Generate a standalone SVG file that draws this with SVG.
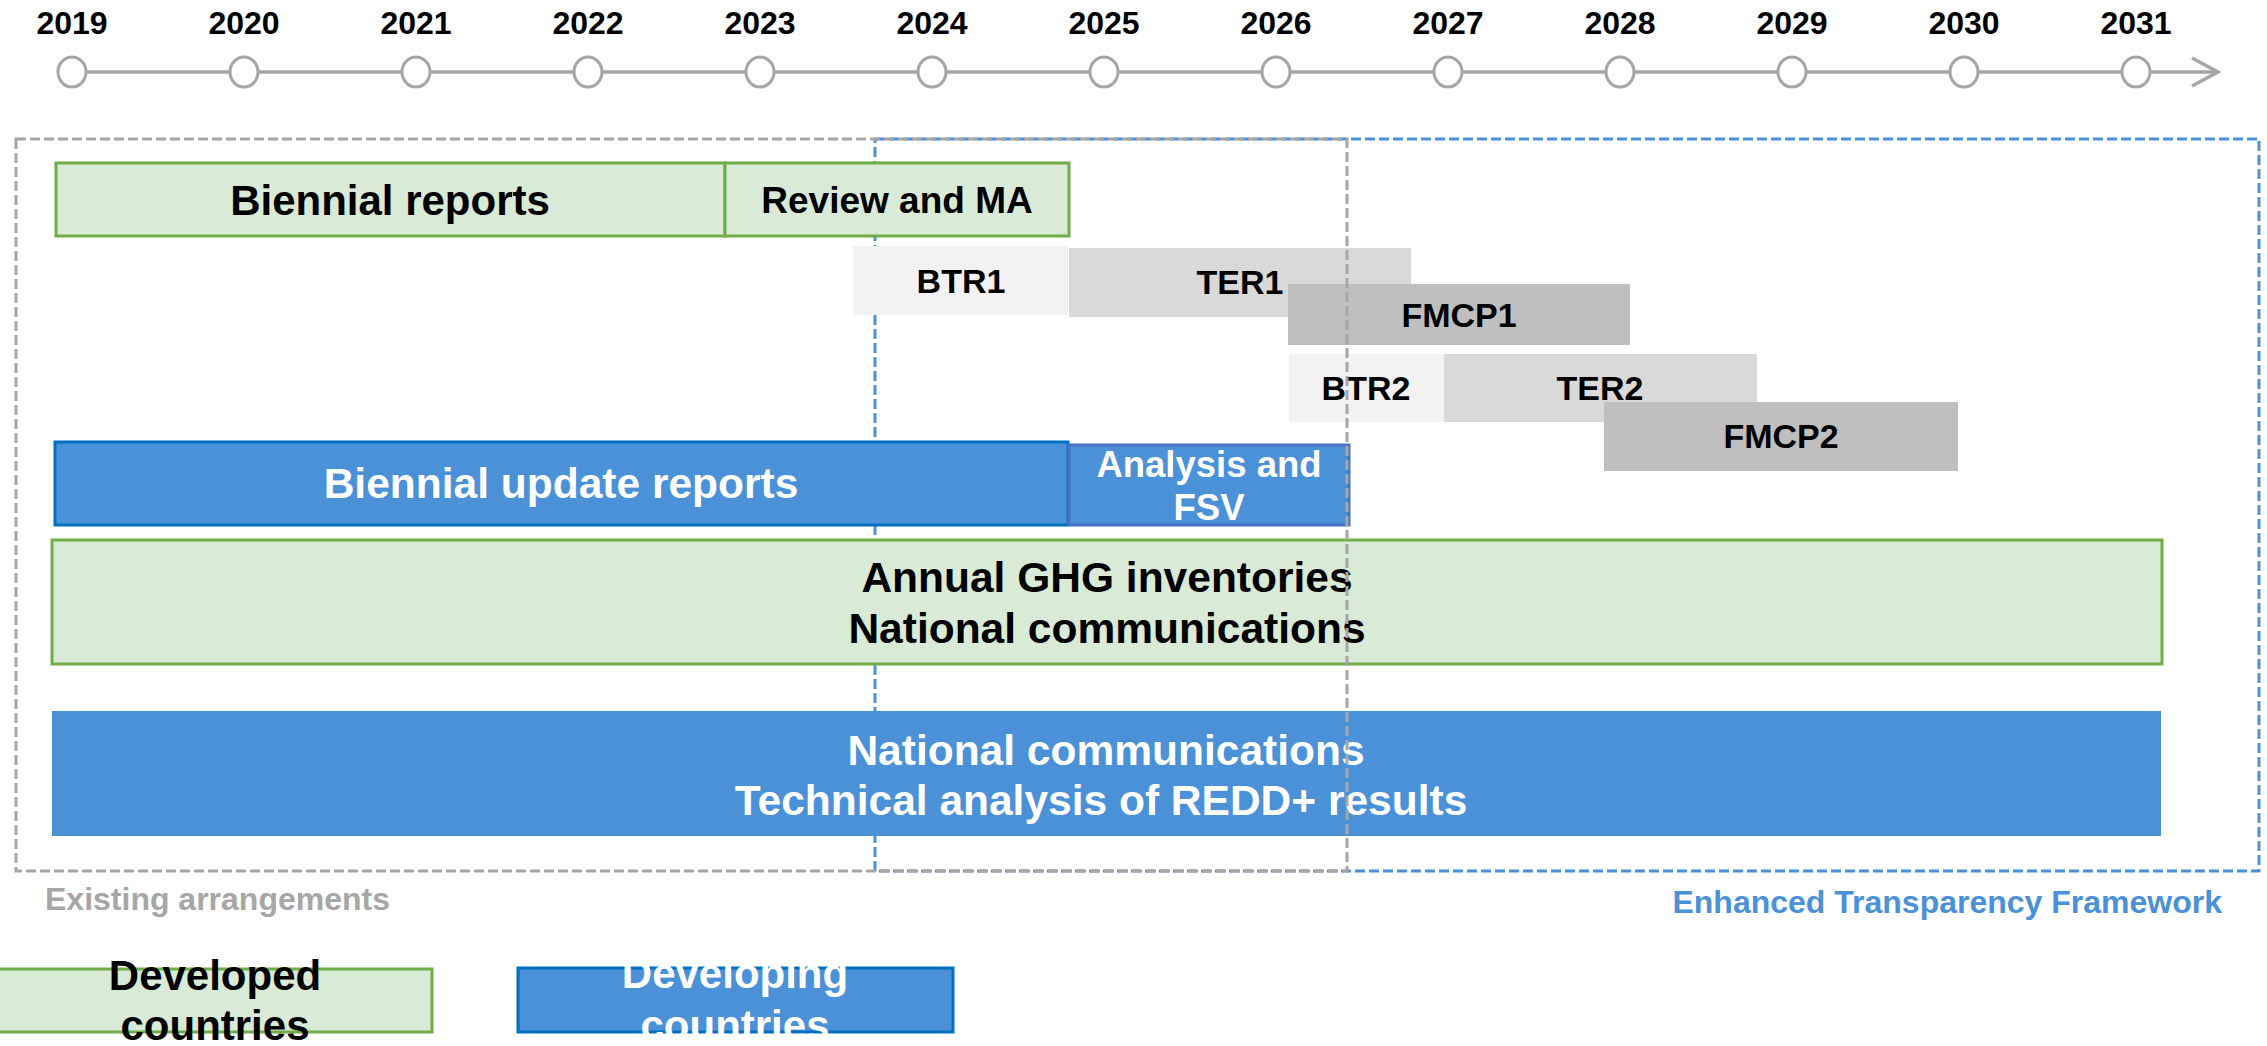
<svg xmlns="http://www.w3.org/2000/svg" width="2267" height="1046" viewBox="0 0 2267 1046">
<style>
text{font-family:"Liberation Sans",Arial,sans-serif;font-weight:bold;text-anchor:middle}
.yr{font-size:32px;fill:#000}
.dk{fill:#000}
.wt{fill:#fff}
.green{fill:#D9EAD7;stroke:#70AD47;stroke-width:3}
.blue{fill:#4A91D8;stroke:#0070C0;stroke-width:3}
.gr1{fill:#F2F2F2}
.gr2{fill:#D9D9D9}
.gr3{fill:#BFBFBF}
.tick{fill:#fff;stroke:#A6A6A6;stroke-width:3}
</style>
<rect width="2267" height="1046" fill="#fff"/>
<g id="axis">
<line x1="72" y1="72" x2="2216" y2="72" stroke="#A6A6A6" stroke-width="3.5"/>
<polyline points="2192,58 2218,72 2192,86" fill="none" stroke="#A6A6A6" stroke-width="3.5"/>
<g id="ticks">
<ellipse class="tick" cx="72" cy="72" rx="14" ry="15"/>
<ellipse class="tick" cx="244" cy="72" rx="14" ry="15"/>
<ellipse class="tick" cx="416" cy="72" rx="14" ry="15"/>
<ellipse class="tick" cx="588" cy="72" rx="14" ry="15"/>
<ellipse class="tick" cx="760" cy="72" rx="14" ry="15"/>
<ellipse class="tick" cx="932" cy="72" rx="14" ry="15"/>
<ellipse class="tick" cx="1104" cy="72" rx="14" ry="15"/>
<ellipse class="tick" cx="1276" cy="72" rx="14" ry="15"/>
<ellipse class="tick" cx="1448" cy="72" rx="14" ry="15"/>
<ellipse class="tick" cx="1620" cy="72" rx="14" ry="15"/>
<ellipse class="tick" cx="1792" cy="72" rx="14" ry="15"/>
<ellipse class="tick" cx="1964" cy="72" rx="14" ry="15"/>
<ellipse class="tick" cx="2136" cy="72" rx="14" ry="15"/>
</g>
<g id="years">
<text class="yr" x="72" y="34">2019</text>
<text class="yr" x="244" y="34">2020</text>
<text class="yr" x="416" y="34">2021</text>
<text class="yr" x="588" y="34">2022</text>
<text class="yr" x="760" y="34">2023</text>
<text class="yr" x="932" y="34">2024</text>
<text class="yr" x="1104" y="34">2025</text>
<text class="yr" x="1276" y="34">2026</text>
<text class="yr" x="1448" y="34">2027</text>
<text class="yr" x="1620" y="34">2028</text>
<text class="yr" x="1792" y="34">2029</text>
<text class="yr" x="1964" y="34">2030</text>
<text class="yr" x="2136" y="34">2031</text>
</g>
</g>
<g id="etf-frame">
<rect x="875" y="139" width="1384" height="732" fill="none" stroke="#4A91D8" stroke-width="3" stroke-dasharray="10 4"/>
</g>
<g id="connectors"></g>
<g id="biennial-reports">
<rect class="green" x="56" y="163" width="669" height="73"/>
<text class="dk" x="390" y="215" font-size="42">Biennial reports</text>
</g>
<g id="review-ma">
<rect class="green" x="725" y="163" width="344" height="73"/>
<text class="dk" x="897" y="213" font-size="37">Review and MA</text>
</g>
<g id="btr1">
<rect class="gr1" x="853" y="246" width="215" height="69"/>
<text class="dk" x="961" y="293" font-size="34">BTR1</text>
</g>
<g id="ter1">
<rect class="gr2" x="1069" y="248" width="342" height="69"/>
<text class="dk" x="1240" y="294" font-size="34">TER1</text>
</g>
<g id="fmcp1">
<rect class="gr3" x="1288" y="284" width="342" height="61"/>
<text class="dk" x="1459" y="327" font-size="34">FMCP1</text>
</g>
<g id="btr2">
<rect class="gr1" x="1289" y="354" width="155" height="68"/>
<text class="dk" x="1366" y="400" font-size="34">BTR2</text>
</g>
<g id="ter2">
<rect class="gr2" x="1444" y="354" width="313" height="68"/>
<text class="dk" x="1600" y="400" font-size="34">TER2</text>
</g>
<g id="fmcp2">
<rect class="gr3" x="1604" y="402" width="354" height="69"/>
<text class="dk" x="1781" y="448" font-size="34">FMCP2</text>
</g>
<g id="biennial-update-reports">
<rect class="blue" x="55" y="442" width="1013" height="83"/>
<text class="wt" x="561" y="498" font-size="42.5">Biennial update reports</text>
</g>
<g id="analysis-fsv">
<rect x="1069" y="445" width="280" height="80" fill="#4A91D8" stroke="#4472C4" stroke-width="3"/>
<text class="wt" x="1209" y="477" font-size="36.5">Analysis and</text>
<text class="wt" x="1209" y="520" font-size="36.5">FSV</text>
</g>
<g id="annual-ghg">
<rect class="green" x="52" y="540" width="2110" height="124"/>
<text class="dk" x="1107" y="592" font-size="42.5">Annual GHG inventories</text>
<text class="dk" x="1107" y="643" font-size="42.5">National communications</text>
</g>
<g id="national-comms-developing">
<rect x="52" y="711" width="2109" height="125" fill="#4A91D8"/>
<text class="wt" x="1106" y="765" font-size="42.5">National communications</text>
<text class="wt" x="1101" y="815" font-size="42.5">Technical analysis of REDD+ results</text>
</g>
<g id="existing-frame">
<rect x="16" y="139" width="1331" height="732" fill="none" stroke="#A6A6A6" stroke-width="3" stroke-dasharray="10 4"/>
</g>
<g id="frame-labels">
<text x="45" y="910" font-size="32" fill="#A6A6A6" style="text-anchor:start">Existing arrangements</text>
<text x="2222" y="913" font-size="32" fill="#4A91D8" style="text-anchor:end">Enhanced Transparency Framework</text>
</g>
<g id="legend-developed">
<rect class="green" x="-2" y="969" width="434" height="63"/>
<text class="dk" x="215" y="990" font-size="42">Developed</text>
<text class="dk" x="215" y="1040" font-size="42">countries</text>
</g>
<g id="legend-developing">
<rect class="blue" x="518" y="968" width="435" height="64"/>
<text class="wt" x="735" y="988" font-size="42">Developing</text>
<text class="wt" x="735" y="1040" font-size="42">countries</text>
</g>
</svg>
